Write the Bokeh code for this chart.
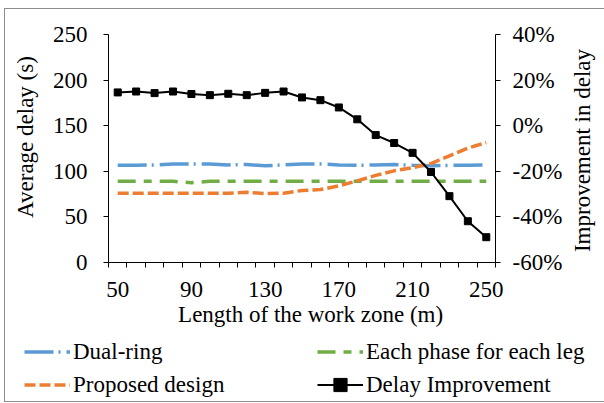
import math
from bokeh.plotting import figure
from bokeh.layouts import column, row
from bokeh.models import (Range1d, LinearAxis, FixedTicker, PrintfTickFormatter,
                          Legend, LegendItem, ColumnDataSource, Label)
from bokeh.embed import file_html
from bokeh.resources import INLINE

# ---- data ----
work_zone_length = [50, 60, 70, 80, 90, 100, 110, 120, 130, 140, 150,
                    160, 170, 180, 190, 200, 210, 220, 230, 240, 250]
dual_ring = [106.5, 106.5, 107, 108, 108, 108, 107, 107.5, 106, 107, 108,
             108, 107, 106.5, 107, 107.5, 106.5, 106, 106.5, 106.5, 107]
each_phase = [89, 89, 89, 89, 87.5, 89, 89, 89, 89, 89, 89,
              89, 89, 89, 89, 89, 89, 89, 89, 89, 89]
proposed = [76, 76, 76, 76, 76, 76, 76, 77, 75.5, 76, 79,
            80, 84, 89.5, 95.5, 100.5, 104, 108.5, 117, 125.5, 131.5]
improvement = [14.6, 15.0, 14.3, 15.0, 13.9, 13.4, 14.0, 13.4, 14.4, 15.0, 12.4,
               11.2, 8.0, 2.8, -4.1, -7.6, -11.9, -20.3, -30.9, -41.9, -48.9]

x_tick_labels = [50, 90, 130, 170, 210, 250]
y_left_ticks = [0, 50, 100, 150, 200, 250]
y_right_ticks = [-60, -40, -20, 0, 20, 40]

src = ColumnDataSource(dict(x=work_zone_length, dual=dual_ring, each=each_phase,
                            prop=proposed, imp=improvement))

FONT = "Liberation Serif"
FS = "23px"

STYLES = dict(
    dual=dict(line_color="#5B9BD5", line_width=3.5, line_dash="29 5 2 6"),
    each=dict(line_color="#70AD47", line_width=3.5, line_dash="18 8 8 8"),
    prop=dict(line_color="#ED7D31", line_width=3.5, line_dash="11 4"),
    imp=dict(line_color="black", line_width=2),
)

def add_series(fig, marker_size=7, **kw):
    r1 = fig.line("x", "dual", source=src, **STYLES["dual"])
    r2 = fig.line("x", "each", source=src, **STYLES["each"])
    r3 = fig.line("x", "prop", source=src, **STYLES["prop"])
    r4 = fig.line("x", "imp", source=src, **STYLES["imp"], **kw)
    r5 = fig.scatter("x", "imp", source=src, marker="square", size=marker_size,
                     fill_color="black", line_color="black", **kw)
    return r1, r2, r3, r4, r5

def strip(width, height):
    f = figure(width=width, height=height, output_backend="svg", toolbar_location=None,
               x_axis_location=None, y_axis_location=None,
               min_border=0, min_border_left=0, min_border_right=0,
               min_border_top=0, min_border_bottom=0)
    f.outline_line_color = None
    f.xgrid.visible = False
    f.ygrid.visible = False
    return f

def title_label(x, y, text):
    return Label(x=x, y=y, x_units="screen", y_units="screen", text=text,
                 angle=math.pi / 2, text_align="center", text_baseline="middle",
                 text_font=FONT, text_font_size=FS, text_color="black")

# ---------------- main chart ----------------
p = figure(width=520, height=325, output_backend="svg", toolbar_location=None,
           x_range=Range1d(45, 255), y_range=Range1d(0, 250),
           min_border_left=63, min_border_right=70,
           min_border_top=25, min_border_bottom=72)
p.extra_y_ranges = {"pct": Range1d(-60, 40)}
p.xgrid.visible = False
p.ygrid.visible = False
p.outline_line_color = None

add_series(p, y_range_name="pct")

step = work_zone_length[1] - work_zone_length[0]
bounds = [v - step / 2 for v in work_zone_length] + [work_zone_length[-1] + step / 2]

def style_axis(ax):
    ax.axis_line_color = "black"
    ax.axis_line_width = 1
    ax.major_tick_line_color = "black"
    ax.minor_tick_line_color = "black"
    ax.major_label_text_font = FONT
    ax.major_label_text_font_size = FS
    ax.major_label_text_color = "black"
    ax.axis_label_text_font = FONT
    ax.axis_label_text_font_size = FS
    ax.axis_label_text_font_style = "normal"
    ax.axis_label_text_color = "black"

xa = p.xaxis[0]
style_axis(xa)
xa.ticker = FixedTicker(ticks=x_tick_labels, minor_ticks=bounds)
xa.major_tick_in = 0
xa.major_tick_out = 0
xa.minor_tick_in = 0
xa.minor_tick_out = 5
xa.major_label_standoff = 14
xa.axis_label = "\u00a0\u00a0\u00a0Length of the work zone (m)"
xa.axis_label_standoff = 2

ya = p.yaxis[0]
style_axis(ya)
ya.ticker = FixedTicker(ticks=y_left_ticks)
ya.major_tick_in = 0
ya.major_tick_out = 5
ya.minor_tick_line_color = None
ya.major_label_standoff = 16

ra = LinearAxis(y_range_name="pct")
style_axis(ra)
ra.ticker = FixedTicker(ticks=y_right_ticks)
ra.formatter = PrintfTickFormatter(format="%d%%")
ra.major_tick_in = 0
ra.major_tick_out = 5
ra.minor_tick_line_color = None
ra.major_label_standoff = 12
p.add_layout(ra, "right")

# ---------------- axis title strips ----------------
ls = strip(40, 325)
ls.add_layout(title_label(20.3, 125.5, "Average delay (s)"))

t = strip(39, 325)
t.add_layout(title_label(17, 112, "Improvement in delay"))

# ---------------- legend strip ----------------
lg = strip(599, 67)
lg.x_range = Range1d(0, 1)
lg.y_range = Range1d(1000, 1001)
r_dual, r_each, r_prop, r_imp, r_imp_m = add_series(lg, marker_size=5)

legend = Legend(items=[
    LegendItem(label="Dual-ring", renderers=[r_dual]),
    LegendItem(label="Each phase for each leg", renderers=[r_each]),
    LegendItem(label="Proposed design", renderers=[r_prop]),
    LegendItem(label="Delay Improvement", renderers=[r_imp, r_imp_m]),
], location=(19, 0), orientation="horizontal", ncols=2,
    label_text_font=FONT, label_text_font_size=FS, label_text_color="black",
    glyph_width=46, glyph_height=33, label_height=33, label_width=244,
    label_standoff=3, spacing=0, padding=0, margin=0,
    border_line_color=None, background_fill_alpha=0)
lg.add_layout(legend, "center")

layout = column(row(ls, p, t, spacing=0), lg, spacing=0)
layout.margin = (8, 0, 0, 4)
layout.styles = {"border": "1px solid #8c8c8c"}

open("out.html", "w").write(file_html(layout, INLINE))
